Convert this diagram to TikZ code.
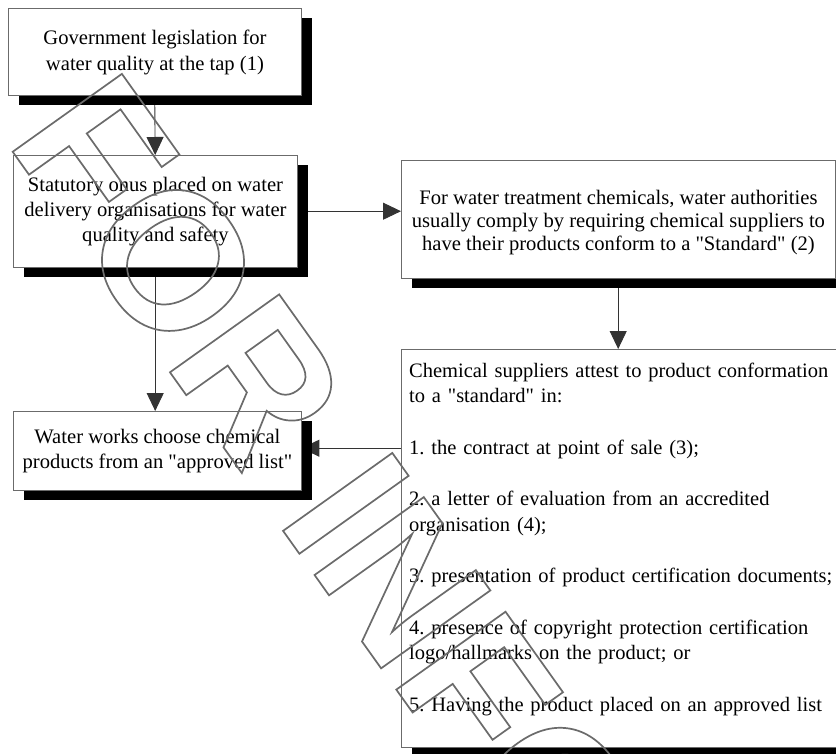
\documentclass[tikz,border=0pt]{standalone}
\usepackage{fontspec}
\setmainfont{Liberation Serif}[Ligatures=TeXOff]
\newfontfamily\wmfont{Liberation Sans}
\usetikzlibrary{arrows.meta,shadows}

\definecolor{frame}{gray}{0.42}
\definecolor{wmgray}{gray}{0.42}

% outlined (stroked, unfilled) lettering through the PDF text render mode
\newcommand\outlinedword[1]{%
  \special{pdf:literal direct 1 Tr 1.7 w 0.42 G}#1\special{pdf:literal direct 0 Tr}}

\tikzset{
  card/.style={draw=frame, line width=0.9pt, fill=white, inner sep=0pt,
    anchor=north west,
    drop shadow={shadow xshift=10.5pt, shadow yshift=-9.5pt, fill=black, opacity=1}},
  slot/.style={inner sep=0pt, anchor=north west},
  caption/.style={inner sep=0pt, align=center,
    font=\frenchspacing\fontsize{20.6}{25}\selectfont},
  link/.style={draw=black!80, line width=0.9pt,
    -{Triangle[length=18pt,width=17pt]}},
  listtext/.style={inner sep=0pt, anchor=base west, align=left,
    text width=445pt, font=\frenchspacing\fontsize{20.5}{25.7}\selectfont},
  stamp/.style={inner sep=0pt, anchor=base west, rotate=-54.5, text=wmgray}
}

\begin{document}
\begin{tikzpicture}[x=1pt,y=1pt]
\useasboundingbox (0,0) rectangle (836,-753);
\clip (0,0) rectangle (836,-753);

% box outlines, laid out first so the connectors can refer to them
\node[slot, minimum width=293pt, minimum height=87pt]  (A) at (8,-8) {};
\node[slot, minimum width=284pt, minimum height=112pt] (B) at (13,-155) {};
\node[slot, minimum width=434pt, minimum height=118pt] (C) at (401,-160) {};
\node[slot, minimum width=445pt, minimum height=398pt] (D) at (401,-349) {};
\node[slot, minimum width=288pt, minimum height=79pt]  (E) at (13,-411) {};

% connectors run underneath the boxes and their shadows
\draw[link] (A.south) -- (B.north);
\draw[link] (B.east) -- (B.east -| C.west);
\draw[link] (B.south) -- (B.south |- E.north);
\draw[link] (C.south) -- (C.south |- D.north);
\draw[link] ([yshift=2.5pt]E.east -| D.west) -- ([yshift=2.5pt]E.east);

% boxes with solid drop shadows
\node[card, minimum width=293pt, minimum height=87pt]  (boxA) at (A.north west) {};
\node[card, minimum width=284pt, minimum height=112pt] (boxB) at (B.north west) {};
\node[card, minimum width=434pt, minimum height=118pt] (boxC) at (C.north west) {};
\node[card, minimum width=445pt, minimum height=398pt] (boxD) at (D.north west) {};
\node[card, minimum width=288pt, minimum height=79pt]  (boxE) at (E.north west) {};

% box texts
\node[caption, font=\frenchspacing\fontsize{20.6}{26.5}\selectfont] (Atext)
  at ([yshift=-0.5pt]boxA.center)
  {Government legislation for\\water quality at the tap (1)};
\node[caption] (Btext) at ([yshift=-0.5pt]boxB.center)
  {Statutory onus placed on water\\delivery organisations for water\\quality and safety};
\node[caption, font=\frenchspacing\fontsize{20.6}{23.4}\selectfont] (Ctext)
  at ([yshift=-3pt]boxC.center)
  {For water treatment chemicals, water authorities\\usually comply by requiring chemical suppliers to\\have their products conform to a "Standard" (2)};
\node[caption] (Etext) at (boxE.center)
  {Water works choose chemical\\products from an "approved list"};

\node[listtext] (Dtext) at ([xshift=8pt, yshift=-28pt]boxD.north west)
  {Chemical suppliers attest to product conformation\\
   to a "standard" in:\\[25.7pt]
   1. the contract at point of sale (3);\\[25.7pt]
   2. a letter of evaluation from an accredited\\
   organisation (4);\\[25.7pt]
   3. presentation of product certification documents;\\[25.7pt]
   4. presence of copyright protection certification\\
   logo/hallmarks on the product; or\\[25.7pt]
   5. Having the product placed on an approved list};

% outlined stamp lettering across the chart
\node[stamp] (stampword) at (5,-141)
  {\wmfont\bfseries\fontsize{195}{195}\selectfont\outlinedword{FOR INFO}};
\end{tikzpicture}
\end{document}
